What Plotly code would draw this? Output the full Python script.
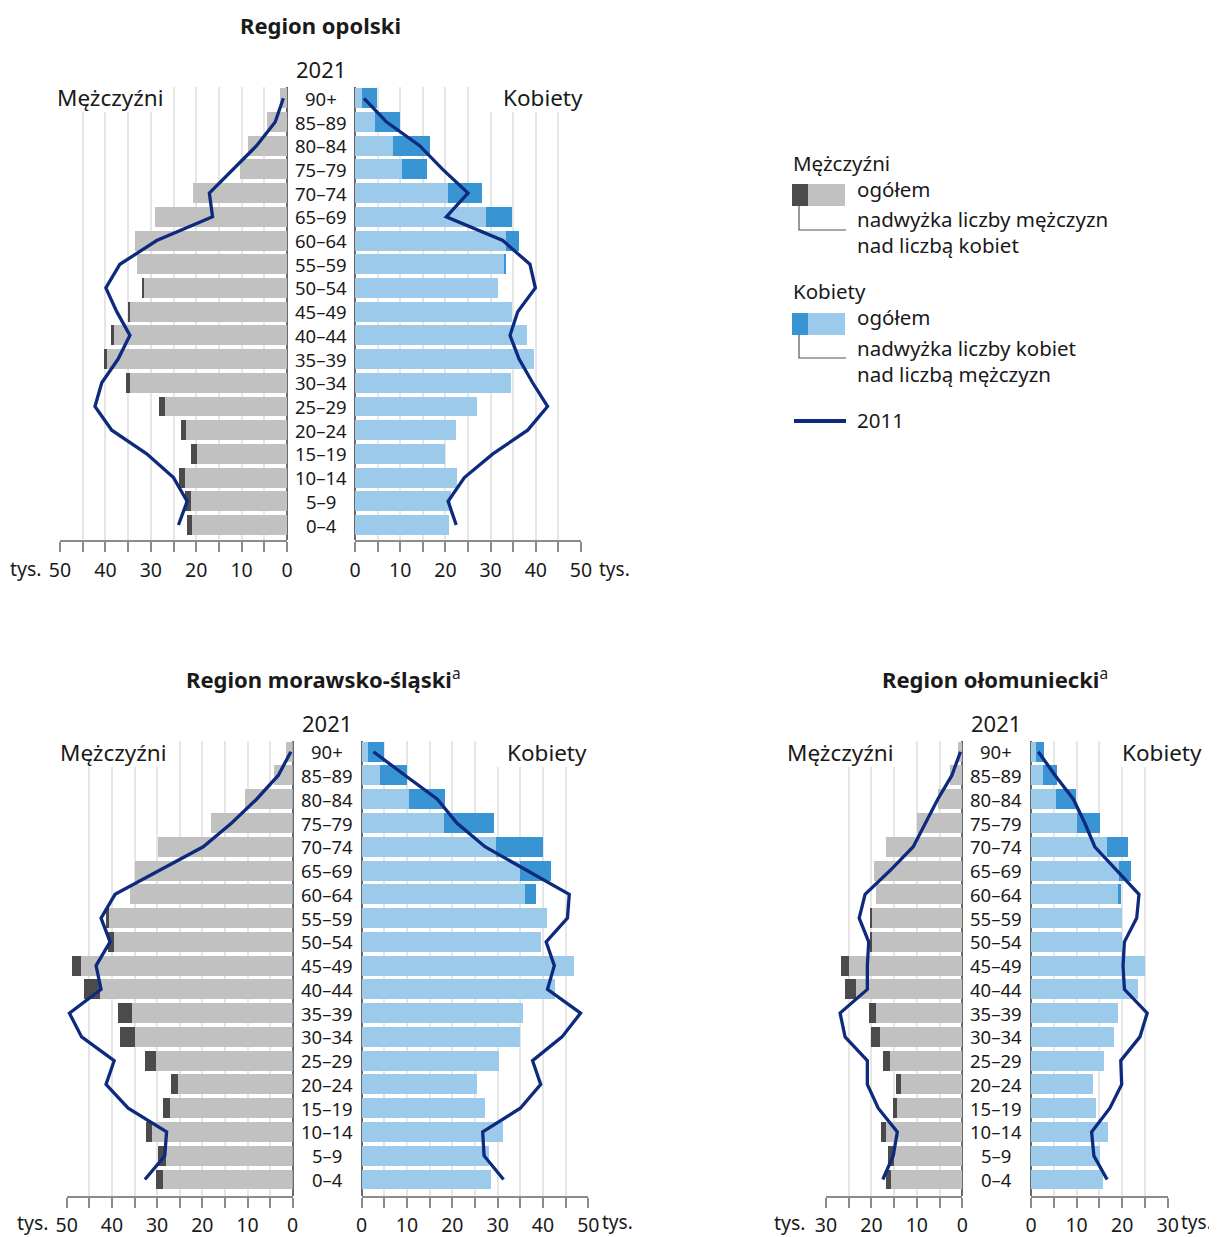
import plotly.graph_objects as go

OFF = 8  # page body margin offset
W, H = 1217 - OFF, 1237 - OFF

ages = ["0–4", "5–9", "10–14", "15–19", "20–24", "25–29", "30–34", "35–39", "40–44",
        "45–49", "50–54", "55–59", "60–64", "65–69", "70–74", "75–79", "80–84", "85–89", "90+"]

# Region opolski (thousands), ordered 0–4 ... 90+
op_men_2021 = [22.0, 22.4, 23.8, 21.1, 23.3, 28.2, 35.5, 40.3, 38.8, 34.9, 31.9, 33.0, 33.5, 29.0, 20.6, 10.3, 8.5, 4.4, 1.6]
op_women_2021 = [20.9, 21.2, 22.5, 19.9, 22.3, 26.9, 34.5, 39.6, 38.0, 34.7, 31.7, 33.2, 36.3, 34.7, 28.1, 15.9, 16.7, 9.9, 4.8]
op_men_2011 = [23.9, 22.0, 25.0, 30.9, 38.6, 42.3, 40.8, 37.2, 34.6, 37.5, 39.9, 36.8, 28.7, 16.4, 17.1, 11.9, 6.7, 2.6, 0.8]
op_women_2011 = [22.4, 20.6, 24.2, 30.5, 38.2, 42.6, 39.3, 36.3, 34.3, 36.0, 39.9, 38.7, 32.7, 20.2, 25.0, 19.4, 14.3, 7.0, 2.0]

# Region morawsko-śląski
ms_men_2021 = [30.2, 29.7, 32.5, 28.8, 27.0, 32.7, 38.1, 38.6, 46.2, 48.9, 40.8, 41.3, 36.0, 35.0, 29.7, 18.1, 10.5, 4.1, 1.4]
ms_women_2021 = [28.6, 28.0, 31.1, 27.2, 25.4, 30.2, 35.0, 35.5, 42.7, 46.9, 39.6, 40.9, 38.4, 41.7, 40.0, 29.2, 18.4, 9.9, 5.0]
ms_men_2011 = [32.7, 28.3, 27.9, 36.4, 41.3, 39.5, 46.7, 49.4, 42.4, 43.5, 40.4, 42.4, 39.3, 29.4, 19.8, 13.5, 8.0, 3.2, 0.4]
ms_women_2011 = [31.3, 27.0, 26.7, 35.0, 39.5, 37.7, 44.2, 48.3, 41.0, 42.5, 40.7, 45.4, 45.8, 36.4, 27.2, 21.0, 16.7, 9.6, 2.6]

# Region ołomuniecki
ol_men_2021 = [16.7, 16.3, 17.8, 15.2, 14.6, 17.4, 20.0, 20.5, 25.8, 26.7, 20.4, 20.3, 19.0, 19.4, 16.7, 10.0, 5.4, 2.7, 1.0]
ol_women_2021 = [15.7, 15.1, 16.8, 14.3, 13.6, 16.0, 18.2, 19.0, 23.5, 25.0, 20.0, 19.9, 19.7, 21.9, 21.3, 15.1, 9.9, 5.8, 2.9]
ol_men_2011 = [17.5, 15.2, 14.3, 18.5, 20.9, 20.9, 25.8, 26.9, 20.9, 20.9, 20.6, 22.7, 21.4, 15.9, 10.8, 8.2, 5.4, 2.3, 0.4]
ol_women_2011 = [16.7, 13.8, 13.3, 17.3, 19.9, 19.7, 23.9, 25.5, 20.5, 20.2, 20.5, 23.2, 23.7, 18.8, 14.0, 11.8, 9.3, 5.3, 1.6]

C_MEN = "#c1c1c1"
C_MEN_X = "#4b4b4b"
C_WOM = "#9ccaea"
C_WOM_X = "#3994d3"
C_LINE = "#0e2a7e"
C_GRID = "#e6e6e6"
C_TXT = "#1a1a1a"
FONT = "Noto Sans"


def px(x):
    return (x - OFF) / W


def py(y):
    return 1 - (y - OFF) / H


charts = [
    dict(men=op_men_2021, women=op_women_2021, m11=op_men_2011, w11=op_women_2011,
         mdom=(60, 287), fdom=(355, 581), ydom=(86.7, 540), yr=(-0.633, 18.49), xmax=50,
         title="<b>Region opolski</b>", tx=320, ty=25, yeary=69, cx=321,
         mlx=110, klx=543, ly=97, mbox=(50, 172), kbox=(486, 592),
         tys_m=43, tys_f=598, tick_y=569, standoff=2),
    dict(men=ms_men_2021, women=ms_women_2021, m11=ms_men_2011, w11=ms_women_2011,
         mdom=(66.7, 292.7), fdom=(361.7, 588.3), ydom=(741, 1196), yr=(-0.694, 18.45), xmax=50,
         title="<b>Region morawsko-śląski</b><sup>a</sup>", tx=323, ty=678, yeary=723, cx=327,
         mlx=113, klx=547, ly=752, mbox=(55, 175), kbox=(492, 596),
         tys_m=50, tys_f=601, tick_y=1222, standoff=1),
    dict(men=ol_men_2021, women=ol_women_2021, m11=ol_men_2011, w11=ol_women_2011,
         mdom=(826, 962.3), fdom=(1031, 1167.7), ydom=(741, 1196), yr=(-0.694, 18.45), xmax=30,
         title="<b>Region ołomuniecki</b><sup>a</sup>", tx=995, ty=678, yeary=723, cx=996,
         mlx=840, klx=1162, ly=752, mbox=(780, 897), kbox=(1114, 1209),
         tys_m=807, tys_f=1180, tick_y=1222, standoff=1),
]

fig = go.Figure()
layout = dict(template="none", width=W, height=H, autosize=False,
              margin=dict(l=0, r=0, t=0, b=0, pad=0),
              paper_bgcolor="white", plot_bgcolor="white",
              barmode="stack", bargap=0.16, showlegend=False,
              font=dict(family=FONT, color=C_TXT))
annotations = []
shapes = []


def anno(x, y, t, size, xanchor="center", yref="paper"):
    annotations.append(dict(x=px(x), xref="paper", y=(py(y) if yref == "paper" else y), yref=yref,
                            text=t, showarrow=False, xanchor=xanchor, yanchor="middle",
                            borderpad=0,
                            font=dict(size=size, color=C_TXT, family=FONT)))


ax_i = 0
for ci, c in enumerate(charts):
    yname = "y" if ci == 0 else f"y{ci + 1}"
    ykey = "yaxis" if ci == 0 else f"yaxis{ci + 1}"
    xm_i = ax_i + 1
    xf_i = ax_i + 2
    ax_i += 2
    xm = "x" if xm_i == 1 else f"x{xm_i}"
    xf = f"x{xf_i}"
    xm_key = "xaxis" if xm_i == 1 else f"xaxis{xm_i}"
    xf_key = f"xaxis{xf_i}"

    idx = list(range(len(ages)))
    men, women = c["men"], c["women"]
    m_base = [min(m, w) for m, w in zip(men, women)]
    m_ex = [max(0, m - w) for m, w in zip(men, women)]
    w_base = [min(m, w) for m, w in zip(men, women)]
    w_ex = [max(0, w - m) for m, w in zip(men, women)]

    fig.add_trace(go.Bar(y=idx, x=m_base, orientation="h", marker=dict(color=C_MEN, line_width=0),
                         xaxis=xm, yaxis=yname, hoverinfo="skip"))
    fig.add_trace(go.Bar(y=idx, x=m_ex, orientation="h", marker=dict(color=C_MEN_X, line_width=0),
                         xaxis=xm, yaxis=yname, hoverinfo="skip"))
    fig.add_trace(go.Bar(y=idx, x=w_base, orientation="h", marker=dict(color=C_WOM, line_width=0),
                         xaxis=xf, yaxis=yname, hoverinfo="skip"))
    fig.add_trace(go.Bar(y=idx, x=w_ex, orientation="h", marker=dict(color=C_WOM_X, line_width=0),
                         xaxis=xf, yaxis=yname, hoverinfo="skip"))
    fig.add_trace(go.Scatter(y=idx, x=c["m11"], mode="lines", line=dict(color=C_LINE, width=3.3),
                             xaxis=xm, yaxis=yname, hoverinfo="skip"))
    fig.add_trace(go.Scatter(y=idx, x=c["w11"], mode="lines", line=dict(color=C_LINE, width=3.3),
                             xaxis=xf, yaxis=yname, hoverinfo="skip"))

    tv = list(range(0, c["xmax"] + 1, 5))
    tt = [str(v) if v % 10 == 0 else " " for v in tv]
    common_x = dict(showgrid=True, gridcolor=C_GRID, gridwidth=1.5,
                    zeroline=True, zerolinecolor="#6a6a6a", zerolinewidth=2,
                    showline=True, linecolor="#8c8c8c", linewidth=1.5,
                    ticks="outside", ticklen=10, tickwidth=1.5, tickcolor="#8c8c8c",
                    tickvals=tv, ticktext=tt, ticklabelstandoff=c["standoff"],
                    tickfont=dict(size=19.5, color=C_TXT, family=FONT),
                    anchor=yname, automargin=False, fixedrange=True)
    layout[xm_key] = dict(common_x, domain=[px(c["mdom"][0]), px(c["mdom"][1])],
                          range=[c["xmax"], 0], autorange=False)
    layout[xf_key] = dict(common_x, domain=[px(c["fdom"][0]), px(c["fdom"][1])],
                          range=[0, c["xmax"]], autorange=False)
    layout[ykey] = dict(domain=[py(c["ydom"][1]), py(c["ydom"][0])], range=list(c["yr"]),
                        autorange=False, showgrid=False, zeroline=False, showticklabels=False,
                        showline=False, ticks="", anchor=xm, automargin=False, fixedrange=True)

    # age labels
    for i, a in enumerate(ages):
        anno(c["cx"], i, a, 18.5, yref=yname)
    # white boxes behind side labels
    for (x0, x1) in (c["mbox"], c["kbox"]):
        shapes.append(dict(type="rect", xref="paper", yref="paper", x0=px(x0), x1=px(x1),
                           y0=py(c["ly"] + 15), y1=py(c["ly"] - 13), fillcolor="white",
                           line_width=0, layer="above"))
    anno(c["mlx"], c["ly"], "Mężczyźni", 22.5)
    anno(c["klx"], c["ly"], "Kobiety", 22.5)
    anno(c["tx"], c["ty"], c["title"], 22)
    anno(c["cx"], c["yeary"], "2021", 22)
    anno(c["tys_m"], c["tick_y"], "tys.", 19.5, xanchor="right")
    anno(c["tys_f"], c["tick_y"], "tys.", 19, xanchor="left")


# Legend (drawn manually)
def ltext(x, y, t):
    anno(x, y, t, 20.5, xanchor="left")


ltext(792, 163, "Mężczyźni")
shapes.append(dict(type="rect", xref="paper", yref="paper", x0=px(792), x1=px(808),
                   y0=py(206), y1=py(184), fillcolor=C_MEN_X, line_width=0))
shapes.append(dict(type="rect", xref="paper", yref="paper", x0=px(808), x1=px(845),
                   y0=py(206), y1=py(184), fillcolor=C_MEN, line_width=0))
ltext(856, 189, "ogółem")
shapes.append(dict(type="path", xref="paper", yref="paper",
                   path=f"M {px(799)} {py(206)} L {px(799)} {py(230)} L {px(846)} {py(230)}",
                   line=dict(color="#555555", width=1.2)))
ltext(856, 219, "nadwyżka liczby mężczyzn")
ltext(856, 245, "nad liczbą kobiet")

ltext(792, 291, "Kobiety")
shapes.append(dict(type="rect", xref="paper", yref="paper", x0=px(792), x1=px(808),
                   y0=py(335), y1=py(313), fillcolor=C_WOM_X, line_width=0))
shapes.append(dict(type="rect", xref="paper", yref="paper", x0=px(808), x1=px(845),
                   y0=py(335), y1=py(313), fillcolor=C_WOM, line_width=0))
ltext(856, 317, "ogółem")
shapes.append(dict(type="path", xref="paper", yref="paper",
                   path=f"M {px(799)} {py(335)} L {px(799)} {py(358)} L {px(846)} {py(358)}",
                   line=dict(color="#555555", width=1.2)))
ltext(856, 348, "nadwyżka liczby kobiet")
ltext(856, 374, "nad liczbą mężczyzn")

shapes.append(dict(type="line", xref="paper", yref="paper", x0=px(794), x1=px(846),
                   y0=py(421), y1=py(421), line=dict(color=C_LINE, width=4)))
ltext(856, 420, "2011")

layout["annotations"] = annotations
layout["shapes"] = shapes
fig.update_layout(**layout)
fig.write_html("out.html")
